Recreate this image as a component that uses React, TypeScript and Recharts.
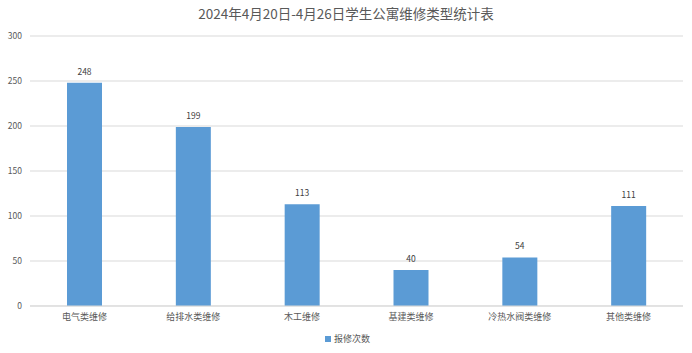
import * as React from "react";
import { BarChart, Bar, XAxis, YAxis, CartesianGrid, Legend, LabelList } from "recharts";

// 维修类型与次数
const categories = ["电气类维修", "给排水类维修", "木工维修", "基建类维修", "冷热水阀类维修", "其他类维修"];
const counts = [248, 199, 113, 40, 54, 111];
const yTicks = [0, 50, 100, 150, 200, 250, 300];

const FONT = '"Noto Sans CJK SC", "Noto Sans", sans-serif';
const GRAY = "#595959";
const BLUE = "#5B9BD5";

const rows = categories.map((name, i) => ({ name, value: counts[i] }));

function LegendBox() {
  return (
    <div
      style={{
        height: 23,
        display: "flex",
        justifyContent: "center",
        alignItems: "flex-start",
        paddingTop: 2,
        paddingLeft: 12,
        boxSizing: "border-box",
        fontFamily: FONT,
        fontSize: 9,
        color: GRAY,
      }}
    >
      <span style={{ display: "inline-block", width: 6, height: 6, background: BLUE, marginTop: 4, marginRight: 3 }} />
      <span style={{ lineHeight: "13px" }}>报修次数</span>
    </div>
  );
}

export default function App() {
  return (
    <div style={{ position: "absolute", left: 0, top: 0, width: 692, height: 353, background: "#fff", fontFamily: FONT }}>
      <div
        style={{
          position: "absolute",
          top: 3,
          left: 0,
          width: 692,
          textAlign: "center",
          fontSize: 13.5,
          color: GRAY,
          lineHeight: "20px",
        }}
      >
        2024年4月20日-4月26日学生公寓维修类型统计表
      </div>
      <BarChart
        width={692}
        height={353}
        data={rows}
        margin={{ top: 36, right: 9, left: 0, bottom: 0 }}
        barCategoryGap="34%"
      >
        <CartesianGrid vertical={false} stroke="#D9D9D9" />
        <XAxis
          dataKey="name"
          axisLine={{ stroke: "#D9D9D9" }}
          tickLine={false}
          height={24}
          tick={{ fill: GRAY, fontSize: 9, fontFamily: FONT }}
          interval={0}
        />
        <YAxis
          width={30}
          domain={[0, 300]}
          ticks={yTicks}
          axisLine={false}
          tickLine={false}
          tick={{ fill: GRAY, fontSize: 8.5, fontFamily: FONT }}
        />
        <Legend verticalAlign="bottom" content={() => <LegendBox />} />
        <Bar dataKey="value" fill={BLUE} isAnimationActive={false}>
          <LabelList dataKey="value" position="top" offset={8} fill="#404040" fontSize={8.5} fontFamily={FONT} />
        </Bar>
      </BarChart>
    </div>
  );
}
